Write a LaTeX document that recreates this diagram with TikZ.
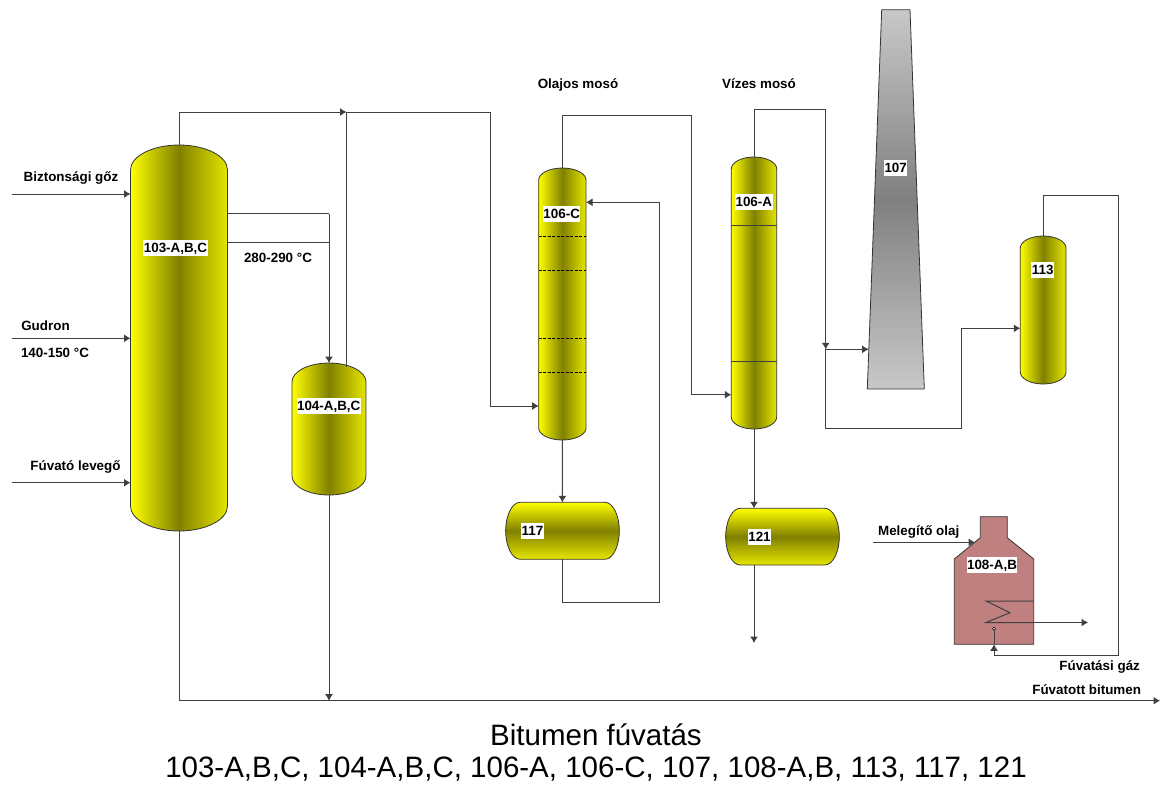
\documentclass[tikz,border=0pt]{standalone}
\usepackage{fontspec}
\setmainfont{Liberation Sans}
\usetikzlibrary{arrows.meta}
\definecolor{yelA}{HTML}{FFFF00}
\definecolor{yelB}{HTML}{E6E600}
\definecolor{oliv}{HTML}{808000}
\definecolor{stackL}{HTML}{C8C8C8}
\definecolor{stackD}{HTML}{808080}
\definecolor{furn}{HTML}{C08080}
\definecolor{pipec}{HTML}{404040}
\tikzset{
  pipe/.style={draw=pipec,line width=1pt},
  flow/.style={pipe,-{Latex[length=6.5pt,width=8pt]}},
  shell/.style={draw=black!80,line width=0.8pt},
  vbox/.style={inner sep=0pt,outer sep=0pt},
  tag/.style={fill=white,inner xsep=0.5pt,inner ysep=0pt,font=\fontsize{13.4}{15}\bfseries\selectfont,text height=11pt,text depth=2.2pt,minimum height=16pt},
  lbl/.style={inner sep=0pt,font=\fontsize{13.4}{15}\bfseries\selectfont,text height=11pt,text depth=2.2pt},
  ttl/.style={inner sep=0pt,font=\fontsize{29.5}{32}\selectfont,text height=21pt,text depth=6pt},
}
\begin{document}
\begin{tikzpicture}[x=1pt,y=-1pt]
  \useasboundingbox (0,0) rectangle (1160,785);
  % upright vessels
  \foreach \n/\xa/\xb/\ya/\yb/\d in {c103/130.5/227.5/145/531/25,c104/292/366/363/495/19,c106c/538.7/586/168/440/12,c106a/731.3/776.7/157/429/12,c113/1020.3/1066/236/384/12} {
    \pgfmathsetmacro\r{(\xb-\xa)/2}
    \path[shell,shade,shading=axis,shading angle=90,left color=yelA,right color=yelB,middle color=oliv]
      (\xa,\ya+\d) arc[start angle=180,end angle=0,x radius=\r pt,y radius=\d pt]
      -- (\xb,\yb-\d) arc[start angle=0,end angle=-180,x radius=\r pt,y radius=\d pt] -- cycle;
    \pgfmathsetmacro\w{\xb-\xa}
    \pgfmathsetmacro\h{\yb-\ya}
    \node[vbox,minimum width=\w pt,minimum height=\h pt] (\n) at ({(\xa+\xb)/2},{(\ya+\yb)/2}) {};
  }
  % drums
  \foreach \n/\xa/\xb/\ya/\yb in {c117/505.7/619.3/502.3/559.3,c121/725.7/839.3/508.3/565} {
    \pgfmathsetmacro\r{(\yb-\ya)/2}
    \path[shell,shade,top color=yelA,bottom color=yelB,middle color=oliv]
      (\xa+14.5,\ya) -- (\xb-14.5,\ya) arc[start angle=90,end angle=-90,x radius=14.5pt,y radius=\r pt]
      -- (\xa+14.5,\yb) arc[start angle=270,end angle=90,x radius=14.5pt,y radius=\r pt] -- cycle;
    \pgfmathsetmacro\w{\xb-\xa}
    \pgfmathsetmacro\h{\yb-\ya}
    \node[vbox,minimum width=\w pt,minimum height=\h pt] (\n) at ({(\xa+\xb)/2},{(\ya+\yb)/2}) {};
  }
  % stack and furnace
  \path[shell,shade,top color=stackL,bottom color=stackL,middle color=stackD]
    (881.7,9.7) -- (910,9.7) -- (924.3,389) -- (867.3,389) -- cycle;
  \node[vbox,minimum width=57pt,minimum height=379.3pt] (c107) at (895.8,199.3) {};
  \draw[shell,fill=furn] (980.3,516.7) -- (1007.3,516.7) -- (1007.3,537.7) -- (1033.7,559)
    -- (1033.7,644.3) -- (954.3,644.3) -- (954.3,559) -- (980.3,537.7) -- cycle;
  \node[vbox,minimum width=79.4pt,minimum height=127.6pt] (c108) at (994,580.5) {};
  % trays
  \foreach \y in {236.3,270.3,338.3,372.3}
    \draw[black,line width=0.7pt,dash pattern=on 3pt off 1.5pt] (c106c.west |- 0,\y) -- (c106c.east |- 0,\y);
  \foreach \y in {225,361}
    \draw[pipec,line width=0.9pt] (c106a.west |- 0,\y) -- (c106a.east |- 0,\y);
  % feeds
  \foreach \m/\y in {goz/194,gud/338.3,lev/482.7} {
    \coordinate (\m) at (11.7,\y);
    \draw[flow] (\m) -- (\m -| c103.west);
  }
  \coordinate (mel) at (873.3,542.3);
  \coordinate (melv) at (975,542.3);
  \draw[flow] (mel) -- (melv);
  % overheads
  \coordinate (j104) at (346.5,112);
  \coordinate (r104) at (346.5,367);
  \coordinate (a1) at (490,112);
  \coordinate (a2) at (490,406);
  \draw[flow] (c103.north) |- (j104);
  \draw[pipe] (r104) -- (j104) -- (a1);
  \draw[flow] (a1) -- (a2) -- (a2 -| c106c.west);
  \coordinate (s1) at (329,213.7);
  \coordinate (s2) at (329,242);
  \draw[pipe] (s1 -| c103.east) -- (s1);
  \draw[pipe] (s2 -| c103.east) -- (s2);
  \draw[flow] (s1) -- (c104.north);
  \coordinate (b1) at (691.7,115.3);
  \coordinate (b2) at (691.7,394.7);
  \draw[flow] (c106c.north) |- (b1) -- (b2) -- (b2 -| c106a.west);
  \coordinate (k1) at (825.7,109.7);
  \coordinate (j107) at (825.7,349.3);
  \coordinate (k2) at (825.7,428.7);
  \coordinate (k3) at (961.7,428.7);
  \coordinate (k4) at (961.7,328.3);
  \draw[flow] (c106a.north) |- (k1) -- (j107);
  \draw[flow] (j107) -- (868.6,349.3);
  \draw[pipe] (j107) -- (k2) -- (k3) -- (k4);
  \draw[flow] (k4) -- (k4 -| c113.west);
  % bottoms
  \coordinate (t117) at (562.4,502.3);
  \coordinate (t121) at (754,508.3);
  \coordinate (e121) at (754,643);
  \draw[flow] (c106c.south) -- (t117);
  \draw[flow] (c106a.south) -- (t121);
  \draw[flow] (t121 |- c121.south) -- (e121);
  \coordinate (d1) at (562.4,602.7);
  \coordinate (d2) at (659.7,602.7);
  \coordinate (d3) at (659.7,202.3);
  \draw[flow] (d1 |- c117.south) -- (d1) -- (d2) -- (d3) -- (d3 -| c106c.east);
  \coordinate (f1) at (179,700.7);
  \coordinate (f2) at (1160,700.7);
  \coordinate (j329) at (329,700.7);
  \draw[flow] (c103.south) -- (f1) -- (f2);
  \draw[flow] (c104.south) -- (j329);
  % gas line and coil
  \coordinate (g1) at (1118,195);
  \coordinate (g2) at (1118,655);
  \coordinate (g3) at (994,655);
  \coordinate (g4) at (994,644.3);
  \draw[flow] (c113.north) |- (g1) -- (g2) -- (g3) -- (g4);
  \coordinate (w1) at (1033.7,601);
  \coordinate (w2) at (986,601);
  \coordinate (w3) at (1010,612.7);
  \coordinate (w4) at (986,622.5);
  \coordinate (w5) at (1033.7,622.5);
  \coordinate (w6) at (1088,622.5);
  \draw[pipe] (w1) -- (w2) -- (w3) -- (w4) -- (w5);
  \draw[flow] (w5) -- (w6);
  \node[circle,draw=black,fill=white,line width=0.5pt,inner sep=0pt,minimum size=3pt] (nozz) at (994,628.7) {};
  \draw[pipe,line width=0.6pt] (nozz) -- (g4);
  % tags
  \foreach \n/\x/\y/\t in {l103/175.5/248/{103-A,B,C},l104/328.7/406/{104-A,B,C},l106c/561.7/213.8/106-C,l106a/753.8/202/106-A,l107/895.7/168/107,l113/1042.7/269.7/113,l117/532.5/530.7/117,l121/759.5/537/121,l108/992/565.3/{108-A,B}}
    \node[tag] (\n) at (\x,\y) {\t};
  % texts
  \node[lbl] (tgoz) at (71,177.5) {Biztonsági gőz};
  \node[lbl] (tgud) at (45.5,326.5) {Gudron};
  \node[lbl] (ttem) at (55,353) {140-150 °C};
  \node[lbl] (tlev) at (75.5,466.5) {Fúvató levegő};
  \node[lbl] (tcc) at (278,258) {280-290 °C};
  \node[lbl] (tolj) at (578,84) {Olajos mosó};
  \node[lbl] (tviz) at (759,84) {Vízes mosó};
  \node[lbl] (tmel) at (918.7,530.7) {Melegítő olaj};
  \node[lbl] (tgaz) at (1099.7,666.5) {Fúvatási gáz};
  \node[lbl] (tbit) at (1086.7,690) {Fúvatott bitumen};
  \node[ttl] (tt1) at (596,737.5) {Bitumen fúvatás};
  \node[ttl] (tt2) at (596,770.2) {103-A,B,C, 104-A,B,C, 106-A, 106-C, 107, 108-A,B, 113, 117, 121};
\end{tikzpicture}
\end{document}
